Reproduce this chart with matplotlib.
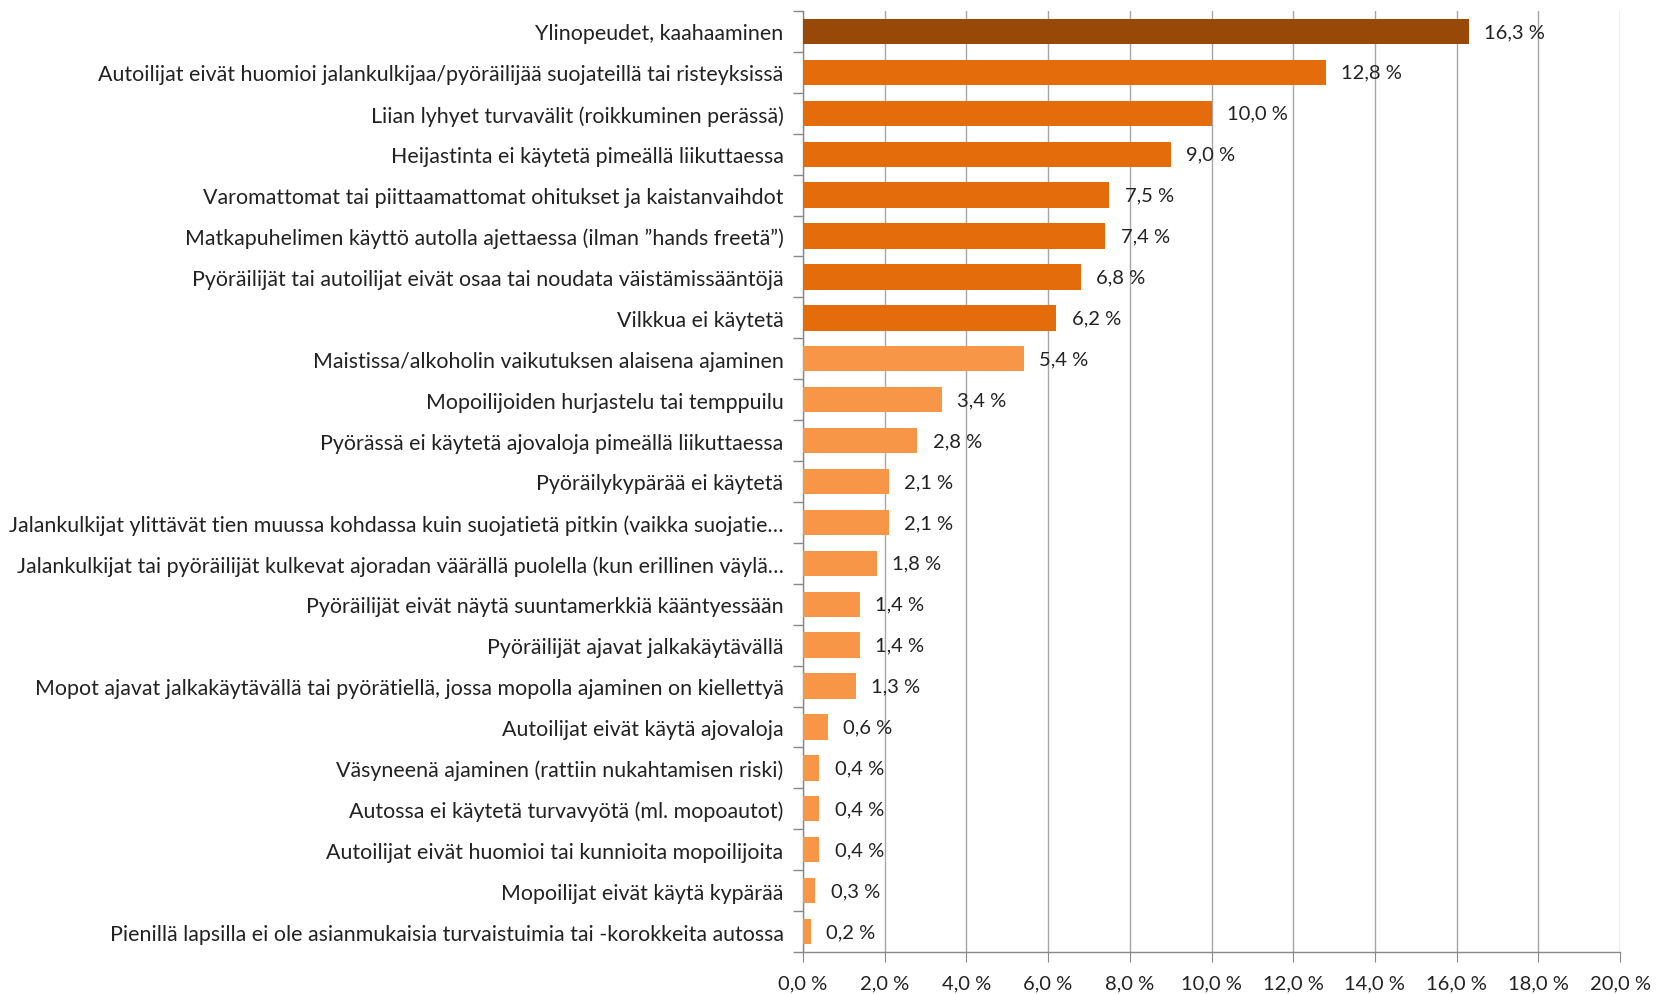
import matplotlib
matplotlib.use("Agg")
import matplotlib.pyplot as plt
from matplotlib.ticker import FixedLocator, FuncFormatter
import numpy as np

categories = [
    "Ylinopeudet, kaahaaminen",
    "Autoilijat eivät huomioi jalankulkijaa/pyöräilijää suojateillä tai risteyksissä",
    "Liian lyhyet turvavälit (roikkuminen perässä)",
    "Heijastinta ei käytetä pimeällä liikuttaessa",
    "Varomattomat tai piittaamattomat ohitukset ja kaistanvaihdot",
    "Matkapuhelimen käyttö autolla ajettaessa (ilman ”hands freetä”)",
    "Pyöräilijät tai autoilijat eivät osaa tai noudata väistämissääntöjä",
    "Vilkkua ei käytetä",
    "Maistissa/alkoholin vaikutuksen alaisena ajaminen",
    "Mopoilijoiden hurjastelu tai temppuilu",
    "Pyörässä ei käytetä ajovaloja pimeällä liikuttaessa",
    "Pyöräilykypärää ei käytetä",
    "Jalankulkijat ylittävät tien muussa kohdassa kuin suojatietä pitkin (vaikka suojatie…",
    "Jalankulkijat tai pyöräilijät kulkevat ajoradan väärällä puolella (kun erillinen väylä…",
    "Pyöräilijät eivät näytä suuntamerkkiä kääntyessään",
    "Pyöräilijät ajavat jalkakäytävällä",
    "Mopot ajavat jalkakäytävällä tai pyörätiellä, jossa mopolla ajaminen on kiellettyä",
    "Autoilijat eivät käytä ajovaloja",
    "Väsyneenä ajaminen (rattiin nukahtamisen riski)",
    "Autossa ei käytetä turvavyötä (ml. mopoautot)",
    "Autoilijat eivät huomioi tai kunnioita mopoilijoita",
    "Mopoilijat eivät käytä kypärää",
    "Pienillä lapsilla ei ole asianmukaisia turvaistuimia tai -korokkeita autossa",
]
values = [16.3, 12.8, 10.0, 9.0, 7.5, 7.4, 6.8, 6.2, 5.4, 3.4, 2.8, 2.1, 2.1,
          1.8, 1.4, 1.4, 1.3, 0.6, 0.4, 0.4, 0.4, 0.3, 0.2]
groups = ["dark"] + ["mid"] * 7 + ["light"] * 15
group_colors = {"dark": "#984807", "mid": "#E46C0A", "light": "#F79646"}
x_ticks = [0, 2, 4, 6, 8, 10, 12, 14, 16, 18, 20]

def fi(v):
    return f"{v:.1f}".replace(".", ",") + " %"

plt.rcParams["font.family"] = ["Lato", "DejaVu Sans"]

fig = plt.figure(figsize=(16.57, 9.95), dpi=100)
ax = fig.add_axes([803 / 1657, 1 - 953 / 995, (1620 - 803) / 1657, (953 - 12) / 995])

n = len(categories)
y = np.arange(n)
colors = [group_colors[g] for g in groups]
ax.barh(y, values, height=0.62, color=colors, zorder=3)
for yi, v in zip(y, values):
    ax.annotate(fi(v), (v, yi), xytext=(11, 0), textcoords="offset points",
                va="center", ha="left", fontsize=14.5, color="#222222", zorder=4)

ax.set_ylim(n - 0.5, -0.5)
ax.set_xlim(0, 20)
ax.xaxis.set_major_locator(FixedLocator(x_ticks))
ax.xaxis.set_major_formatter(FuncFormatter(lambda v, p: fi(v)))
ax.set_yticks(y)
ax.set_yticklabels(categories, fontsize=15.4, color="#222222")
ax.yaxis.set_minor_locator(FixedLocator(np.arange(-0.5, n, 1.0)))
ax.tick_params(axis="y", which="major", length=0, pad=14)
ax.tick_params(axis="y", which="minor", length=7, color="#888888", width=1)
ax.tick_params(axis="x", which="major", length=7, color="#888888", labelsize=14.5,
               labelcolor="#222222", pad=9)
ax.grid(axis="x", color="#a6a6a6", linewidth=1, zorder=0)
for s in ["top", "right"]:
    ax.spines[s].set_visible(False)
for s in ["left", "bottom"]:
    ax.spines[s].set_color("#888888")
    ax.spines[s].set_linewidth(1)

fig.savefig("out.png", dpi=100, facecolor="white")
